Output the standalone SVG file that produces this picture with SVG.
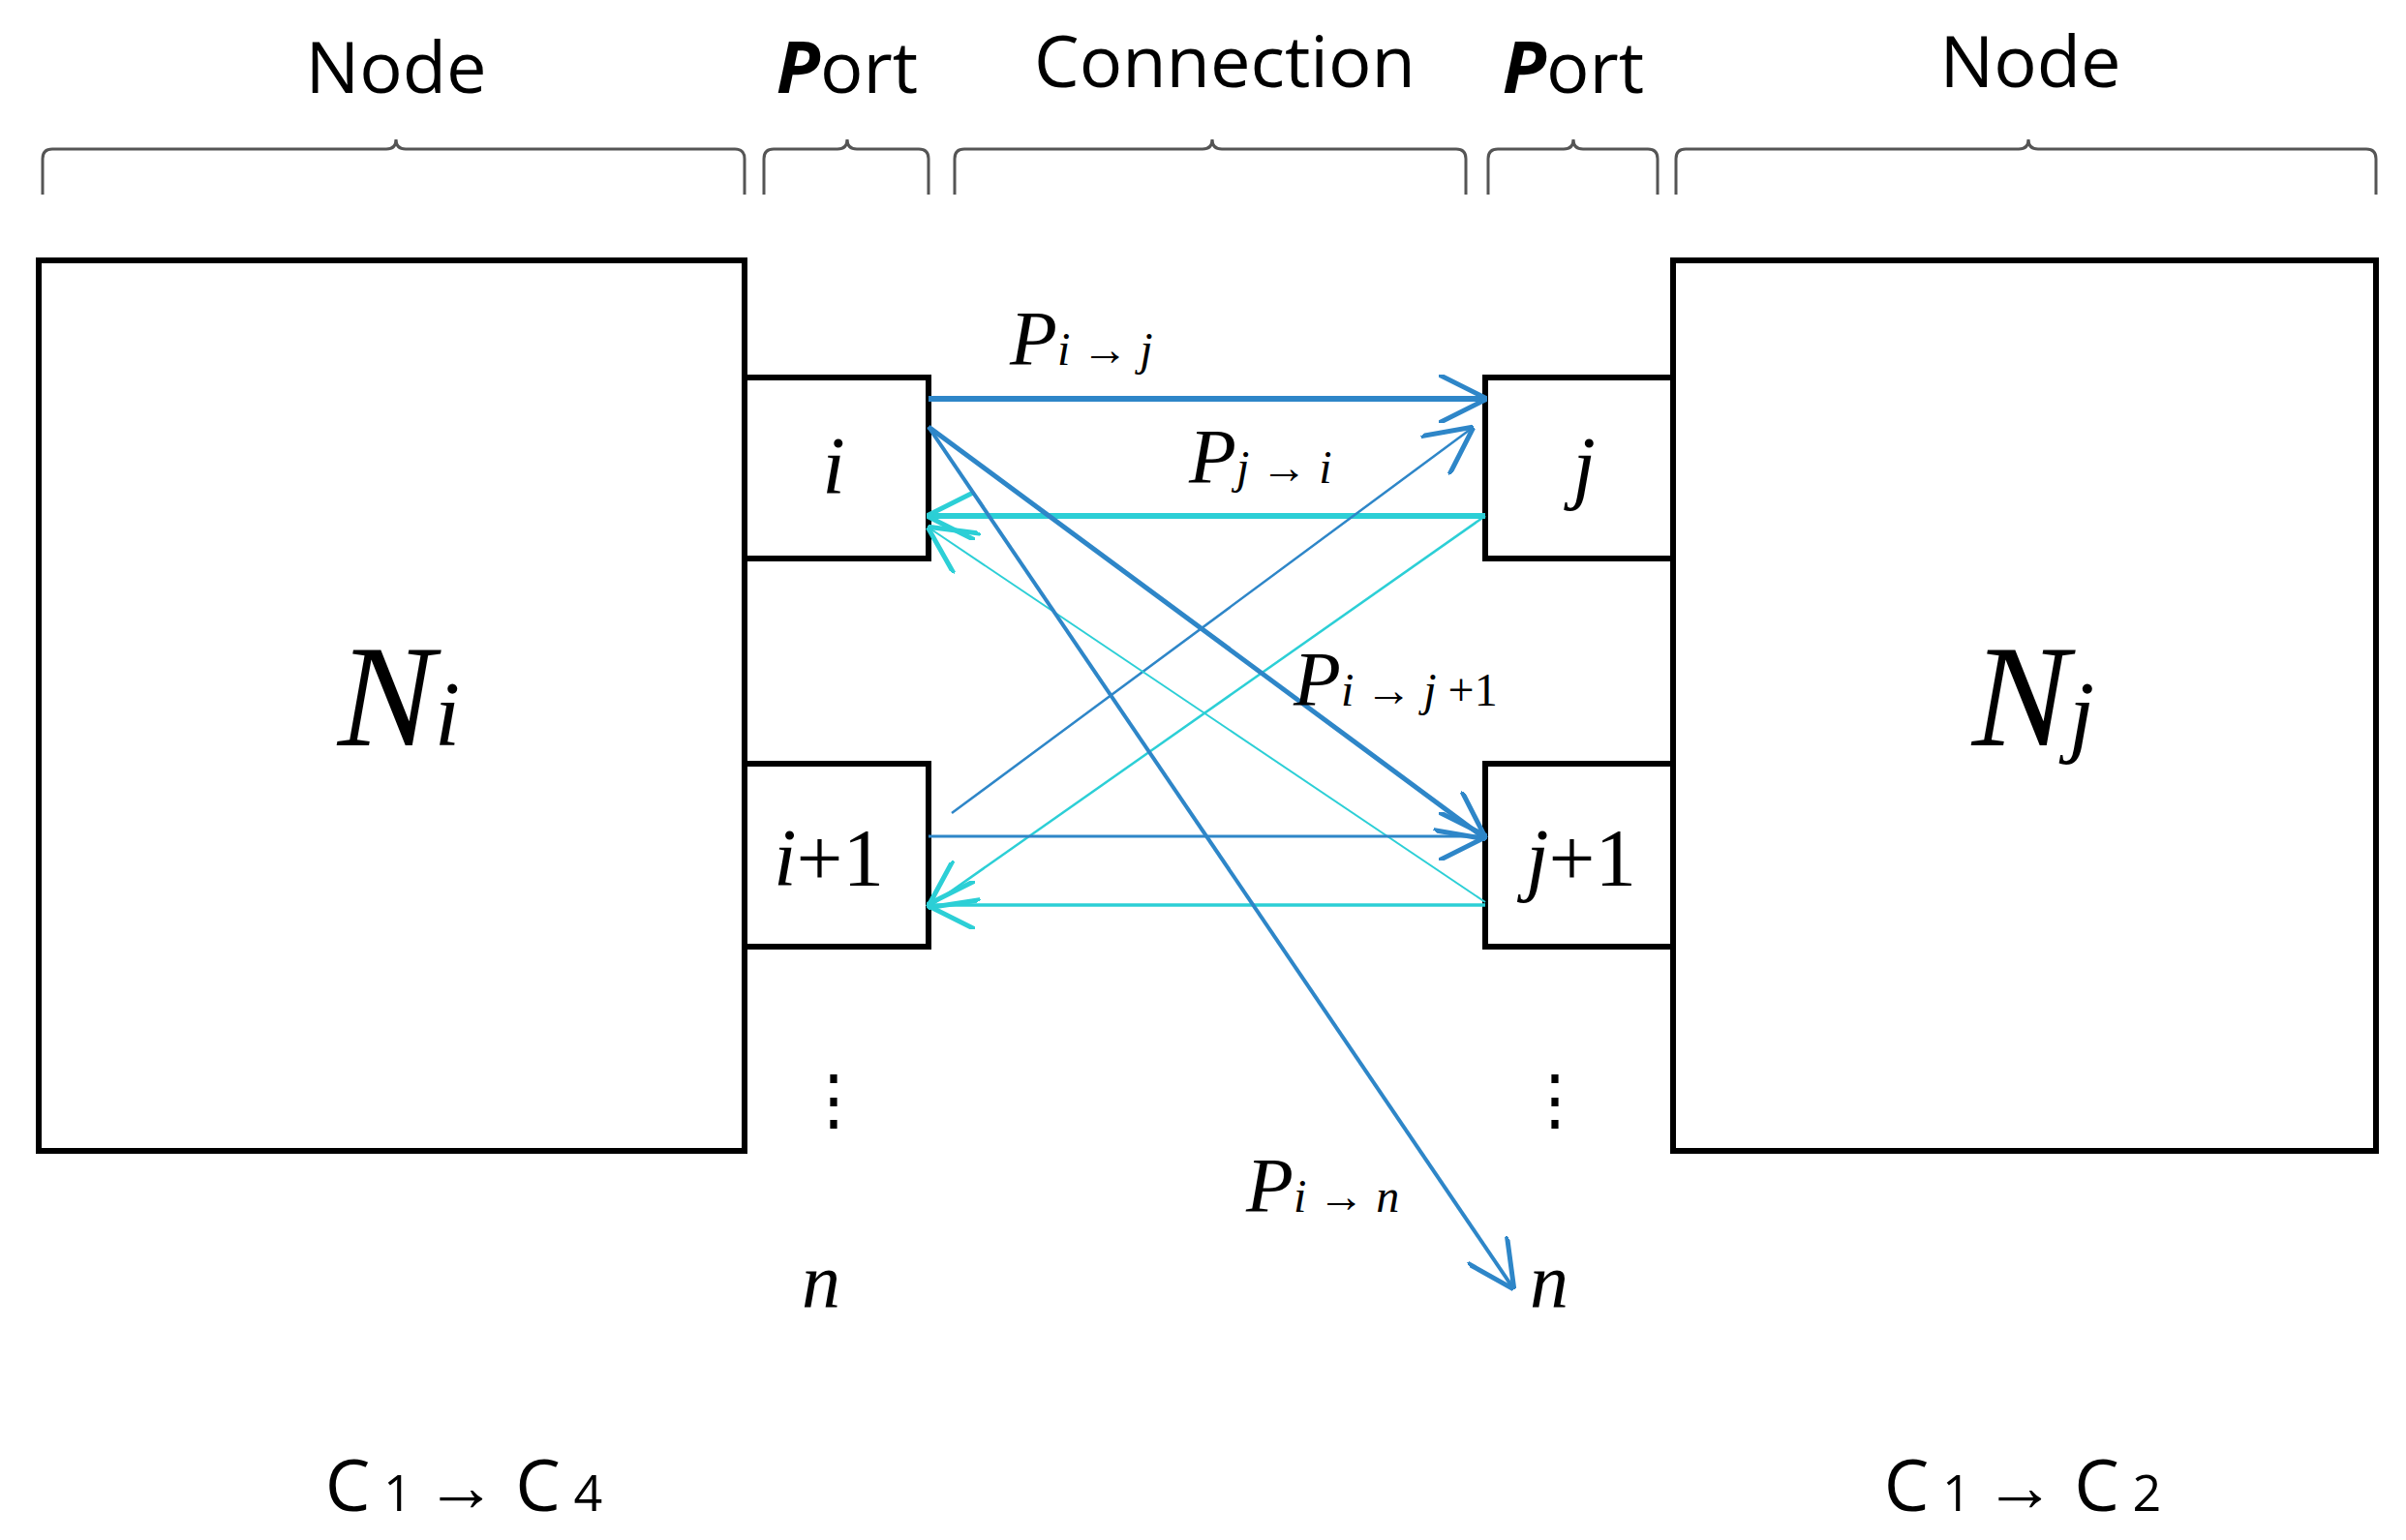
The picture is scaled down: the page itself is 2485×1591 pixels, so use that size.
<svg xmlns="http://www.w3.org/2000/svg" width="2485" height="1591" viewBox="0 0 2485 1591">
<style>
.box{fill:#fff;stroke:#000;stroke-width:6}
.br{fill:none;stroke:#555;stroke-width:3}
.hd{font-family:"Open Sans","Liberation Sans",sans-serif;font-size:74px;fill:#000;text-anchor:middle}
.m{font-family:"Liberation Serif",serif;font-style:italic;fill:#000}
.mu{font-family:"Liberation Serif",serif;font-style:normal;fill:#000}
.b{stroke:#2e86c8;fill:none}
.c{stroke:#2ccfd6;fill:none}
</style>
<defs>
<marker id="ab" viewBox="0 0 10 10" refX="9" refY="5" markerWidth="6" markerHeight="6" orient="auto" markerUnits="userSpaceOnUse" style="overflow:visible"><path d="M0,0 L10,5 L0,10" fill="none" stroke="#2e86c8" stroke-width="1.5"/></marker>
<marker id="ac" viewBox="0 0 10 10" refX="9" refY="5" markerWidth="6" markerHeight="6" orient="auto" style="overflow:visible"><path d="M0,0 L10,5 L0,10" fill="none" stroke="#2ccfd6" stroke-width="1.5"/></marker>
<marker id="abt" viewBox="0 0 10 10" refX="9" refY="5" markerWidth="50" markerHeight="50" orient="auto" markerUnits="userSpaceOnUse"><path d="M0,0 L10,5 L0,10" fill="none" stroke="#2e86c8" stroke-width="1"/></marker>
<marker id="act" viewBox="0 0 10 10" refX="9" refY="5" markerWidth="50" markerHeight="50" orient="auto" markerUnits="userSpaceOnUse"><path d="M0,0 L10,5 L0,10" fill="none" stroke="#2ccfd6" stroke-width="1"/></marker>
</defs>
<rect width="2485" height="1591" fill="#fff"/>
<g id="headers">
<text class="hd" x="409" y="96">Node</text>
<text class="hd" x="875" y="96"><tspan font-weight="bold" font-style="italic">P</tspan>ort</text>
<text class="hd" x="1265" y="90">Connection</text>
<text class="hd" x="1625" y="96"><tspan font-weight="bold" font-style="italic">P</tspan>ort</text>
<text class="hd" x="2097" y="90">Node</text>
</g>
<g id="braces">
<path class="br" d="M44,201 V164 Q44,154 54,154 H399 Q409,154 409,144 Q409,154 419,154 H759 Q769,154 769,164 V201"/>
<path class="br" d="M789,201 V164 Q789,154 799,154 H865 Q875,154 875,144 Q875,154 885,154 H949 Q959,154 959,164 V201"/>
<path class="br" d="M986,201 V164 Q986,154 996,154 H1242 Q1252,154 1252,144 Q1252,154 1262,154 H1504 Q1514,154 1514,164 V201"/>
<path class="br" d="M1537,201 V164 Q1537,154 1547,154 H1615 Q1625,154 1625,144 Q1625,154 1635,154 H1702 Q1712,154 1712,164 V201"/>
<path class="br" d="M1731,201 V164 Q1731,154 1741,154 H2085 Q2095,154 2095,144 Q2095,154 2105,154 H2444 Q2454,154 2454,164 V201"/>
</g>
<g id="node-Ni"><rect class="box" x="40" y="269" width="729" height="920"/>
<text class="m" x="412" y="770" font-size="150" text-anchor="middle">N<tspan font-size="95">i</tspan></text></g>
<g id="node-Nj"><rect class="box" x="1728" y="269" width="726" height="920"/>
<text class="m" x="2100" y="770" font-size="150" text-anchor="middle">N<tspan font-size="95">j</tspan></text></g>
<g id="port-i"><rect class="box" x="769" y="390" width="190" height="187"/><text class="m" x="861" y="510" font-size="85" text-anchor="middle">i</text></g>
<g id="port-i1"><rect class="box" x="769" y="789" width="190" height="189"/><text class="m" x="856" y="915" font-size="85" text-anchor="middle">i<tspan class="mu">+1</tspan></text></g>
<g id="port-j"><rect class="box" x="1534" y="390" width="194" height="187"/><text class="m" x="1636" y="510" font-size="85" text-anchor="middle">j</text></g>
<g id="port-j1"><rect class="box" x="1534" y="789" width="194" height="189"/><text class="m" x="1633" y="915" font-size="85" text-anchor="middle">j<tspan class="mu">+1</tspan></text></g>
<g id="port-n-left"><text class="mu" x="861" y="1160" font-size="70" text-anchor="middle">⋮</text><text class="m" x="848" y="1350" font-size="80" text-anchor="middle">n</text></g>
<g id="port-n-right"><text class="mu" x="1606" y="1160" font-size="70" text-anchor="middle">⋮</text><text class="m" x="1600" y="1350" font-size="80" text-anchor="middle">n</text></g>
<g id="connectors">
<line class="b" x1="959" y1="412" x2="1531" y2="412" stroke-width="6" marker-end="url(#abt)"/>
<line class="c" x1="1534" y1="533" x2="962" y2="533" stroke-width="6" marker-end="url(#act)"/>
<line class="b" x1="983" y1="840" x2="1518" y2="444" stroke-width="2.5" marker-end="url(#abt)"/>
<line class="c" x1="1534" y1="533" x2="962" y2="935" stroke-width="2.5" marker-end="url(#act)"/>
<line class="c" x1="1534" y1="932" x2="962" y2="547" stroke-width="2" marker-end="url(#act)"/>
<line class="b" x1="959" y1="441" x2="1531" y2="864" stroke-width="5" marker-end="url(#abt)"/>
<line class="b" x1="959" y1="864" x2="1531" y2="864" stroke-width="3" marker-end="url(#abt)"/>
<line class="c" x1="1534" y1="935" x2="962" y2="935" stroke-width="3.5" marker-end="url(#act)"/>
<line class="b" x1="959" y1="441" x2="1561" y2="1328" stroke-width="4" marker-end="url(#abt)"/>
</g>
<g id="labels">
<text class="m" x="1043" y="377" font-size="80">P<tspan font-size="48">i <tspan class="mu">→</tspan> j</tspan></text>
<text class="m" x="1228" y="499" font-size="80">P<tspan font-size="48">j <tspan class="mu">→</tspan> i</tspan></text>
<text class="m" x="1336" y="729" font-size="80">P<tspan font-size="48">i <tspan class="mu">→</tspan> j <tspan class="mu">+1</tspan></tspan></text>
<text class="m" x="1287" y="1252" font-size="80">P<tspan font-size="48">i <tspan class="mu">→</tspan> n</tspan></text>
</g>
<g id="footer">
<text x="479" y="1561" font-family="'Open Sans','Liberation Sans',sans-serif" font-size="74" text-anchor="middle">C<tspan font-size="52"> 1 </tspan><tspan font-weight="bold">→</tspan> C<tspan font-size="52"> 4</tspan></text>
<text x="2089" y="1561" font-family="'Open Sans','Liberation Sans',sans-serif" font-size="74" text-anchor="middle">C<tspan font-size="52"> 1 </tspan><tspan font-weight="bold">→</tspan> C<tspan font-size="52"> 2</tspan></text>
</g>
</svg>
